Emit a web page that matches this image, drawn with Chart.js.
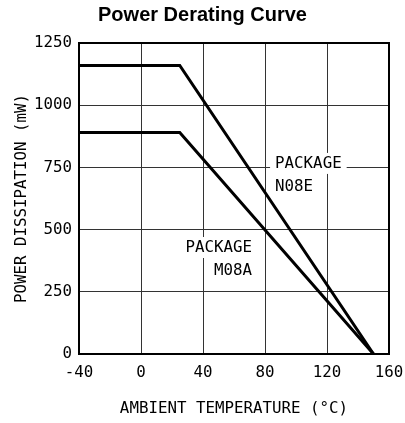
<!DOCTYPE html>
<html>
<head>
<meta charset="utf-8">
<script src="https://cdn.jsdelivr.net/npm/chart.js@4/dist/chart.umd.min.js"></script>
<style>
html,body{margin:0;padding:0;background:#fff;}
#wrap{width:405px;height:423px;position:relative;}
</style>
</head>
<body>
<div id="wrap"><canvas id="c" width="405" height="423"></canvas></div>
<script>
const chartTitle = 'Power Derating Curve';
const xTitle = 'AMBIENT TEMPERATURE (°C)';
const yTitle = 'POWER DISSIPATION (mW)';
const temps = [-40, 25, 150];
const powerN08E = [1160, 1160, 0];
const powerM08A = [890, 890, 0];
const labelN08E = ['PACKAGE', 'N08E'];
const labelM08A = ['PACKAGE', 'M08A'];
const labelN08EPos = [86.5, 766];
const labelM08APos = [71.6, 428];

const FONT = '"DejaVu Sans Mono", monospace';

const labelsPlugin = {
  id: 'pkgLabels',
  beforeDatasetsDraw(chart) {
    const ctx = chart.ctx, xs = chart.scales.x, ys = chart.scales.y;
    ctx.save();
    ctx.font = '15.8px ' + FONT;
    ctx.textBaseline = 'middle';
    const lh = 23.5;
    function block(lines, pos, align, padX) {
      const px = xs.getPixelForValue(pos[0]);
      const py = ys.getPixelForValue(pos[1]);
      lines.forEach((l, i) => {
        const w = ctx.measureText(l).width;
        const x0 = align === 'left' ? px : px - w;
        const y = py + i * lh;
        ctx.fillStyle = '#fff';
        ctx.fillRect(x0 - padX, y - 10.5, w + 2 * padX, 21);
      });
      ctx.fillStyle = '#000';
      ctx.textAlign = align;
      lines.forEach((l, i) => ctx.fillText(l, px, py + i * lh));
    }
    block(labelN08E, labelN08EPos, 'left', 5);
    block(labelM08A, labelM08APos, 'right', 7);
    ctx.restore();
  },
  afterDraw(chart) {
    const a = chart.chartArea, ctx = chart.ctx;
    ctx.save();
    ctx.strokeStyle = '#000';
    ctx.lineWidth = 2;
    ctx.strokeRect(a.left, a.top, a.right - a.left, a.bottom - a.top);
    ctx.restore();
  }
};

new Chart(document.getElementById('c'), {
  type: 'line',
  data: {
    datasets: [
      { data: temps.map((t, i) => ({x: t, y: powerN08E[i]})), borderColor: '#000', borderWidth: 3, pointRadius: 0, tension: 0, fill: false },
      { data: temps.map((t, i) => ({x: t, y: powerM08A[i]})), borderColor: '#000', borderWidth: 3, pointRadius: 0, tension: 0, fill: false }
    ]
  },
  options: {
    responsive: false,
    animation: false,
    devicePixelRatio: 1,
    layout: { padding: { left: 0, right: 0, top: 0, bottom: 0 } },
    plugins: {
      legend: { display: false },
      tooltip: { enabled: false },
      title: {
        display: true,
        text: chartTitle,
        color: '#000',
        font: { family: '"Liberation Sans", Arial, sans-serif', size: 20, weight: 'bold', lineHeight: 1.2 },
        padding: { top: 3, bottom: 16 }
      }
    },
    scales: {
      x: {
        type: 'linear',
        min: -40, max: 160,
        afterFit(s) { s.height = 69; s.paddingLeft = 0; s.paddingRight = 16; },
        ticks: { stepSize: 40, color: '#000', font: { family: FONT, size: 15.8 }, padding: 9, maxRotation: 0, callback: v => String(v) },
        grid: { color: '#333', lineWidth: 1, drawTicks: false },
        border: { color: '#000', width: 2 },
        title: { display: true, text: xTitle, color: '#000', font: { family: FONT, size: 15.8, lineHeight: 1.2 }, padding: { top: 0, bottom: 5 } }
      },
      y: {
        type: 'linear',
        min: 0, max: 1250,
        afterFit(s) { s.width = 79; s.paddingTop = 0; s.paddingBottom = 0; },
        ticks: { stepSize: 250, color: '#000', font: { family: FONT, size: 15.8 }, padding: 7, callback: v => String(v) },
        grid: { color: '#333', lineWidth: 1, drawTicks: false },
        border: { color: '#000', width: 2 },
        title: { display: true, text: yTitle, color: '#000', font: { family: FONT, size: 15.8, lineHeight: 1.2 }, padding: { top: 12, bottom: 0 } }
      }
    }
  },
  plugins: [labelsPlugin]
});
</script>
</body>
</html>
